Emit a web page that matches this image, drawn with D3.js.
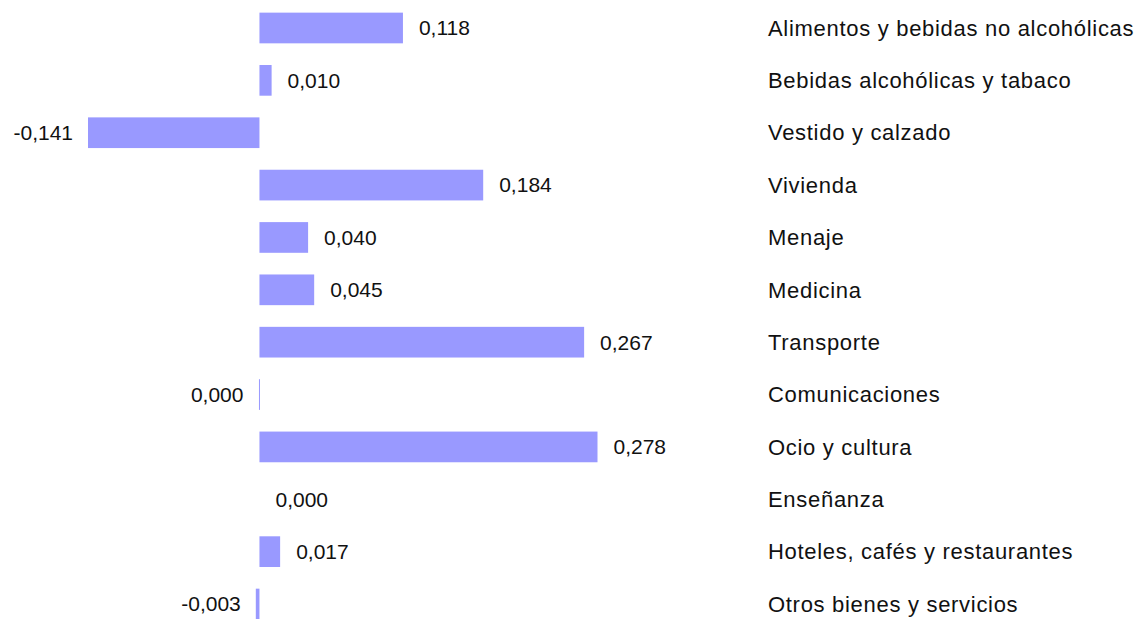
<!DOCTYPE html>
<html>
<head>
    <meta charset="utf-8">
    <title>Contribuciones</title>
    <script type="text/javascript" src="https://cdn.jsdelivr.net/npm/d3@7"></script>
</head>
<body style="margin:0;background:#fff;">

<style>
.bar {
    fill: #9999ff;
}
.label, .value {
    font-family: "Liberation Sans", Arial, Helvetica, sans-serif;
    fill: #111;
}
.value {
    font-size: 21px;
}
.label {
    font-size: 22px;
    letter-spacing: 0.7px;
}
</style>

<script type="text/javascript">
    // data
    var categories = [
        "Alimentos y bebidas no alcohólicas",
        "Bebidas alcohólicas y tabaco",
        "Vestido y calzado",
        "Vivienda",
        "Menaje",
        "Medicina",
        "Transporte",
        "Comunicaciones",
        "Ocio y cultura",
        "Enseñanza",
        "Hoteles, cafés y restaurantes",
        "Otros bienes y servicios"
    ];
    var values = [0.118, 0.010, -0.141, 0.184, 0.040, 0.045, 0.267, -0.0004, 0.278, 0.000, 0.017, -0.003];

    var width = 1142,
        height = 619,
        labelX = 768,
        gap = 15;

    var data = categories.map(function(c, i){
        return {cat: c, value: values[i]};
    });

    var x = d3.scaleLinear()
            .domain([-0.141, 0.278])
            .range([88, 597.5]);

    var y = d3.scaleBand()
            .domain(categories)
            .range([1.8, 630.2])
            .paddingInner(0.414)
            .paddingOuter(0.207);

    var fmt = function(v){
        if (Math.abs(v) < 0.0005) v = 0;
        return v.toFixed(3).replace(".", ",");
    };

    var svg = d3.select("body").append("svg")
        .attr("width", width)
        .attr("height", height);

    var rows = svg.selectAll("g.row")
            .data(data)
        .enter().append("g")
            .attr("class", "row")
            .attr("transform", function(d){ return "translate(0," + y(d.cat) + ")"; });

    rows.filter(function(d){ return d.value !== 0; })
        .append("rect")
        .attr("class", "bar")
        .attr("x", function(d){ return Math.min(x(0), x(d.value)); })
        .attr("y", 0)
        .attr("width", function(d){ return Math.max(1, Math.abs(x(d.value) - x(0))); })
        .attr("height", y.bandwidth());

    rows.append("text")
        .attr("class", "value")
        .attr("x", function(d){
            return d.value < 0 ? Math.min(x(d.value), x(0) - 1) - gap : x(d.value) + gap + 1;
        })
        .attr("y", y.bandwidth() / 2)
        .attr("dy", "0.35em")
        .attr("text-anchor", function(d){ return d.value < 0 ? "end" : "start"; })
        .text(function(d){ return fmt(d.value); });

    rows.append("text")
        .attr("class", "label")
        .attr("x", labelX)
        .attr("y", y.bandwidth() / 2)
        .attr("dy", "0.35em")
        .text(function(d){ return d.cat; });
</script>
</body>
</html>
